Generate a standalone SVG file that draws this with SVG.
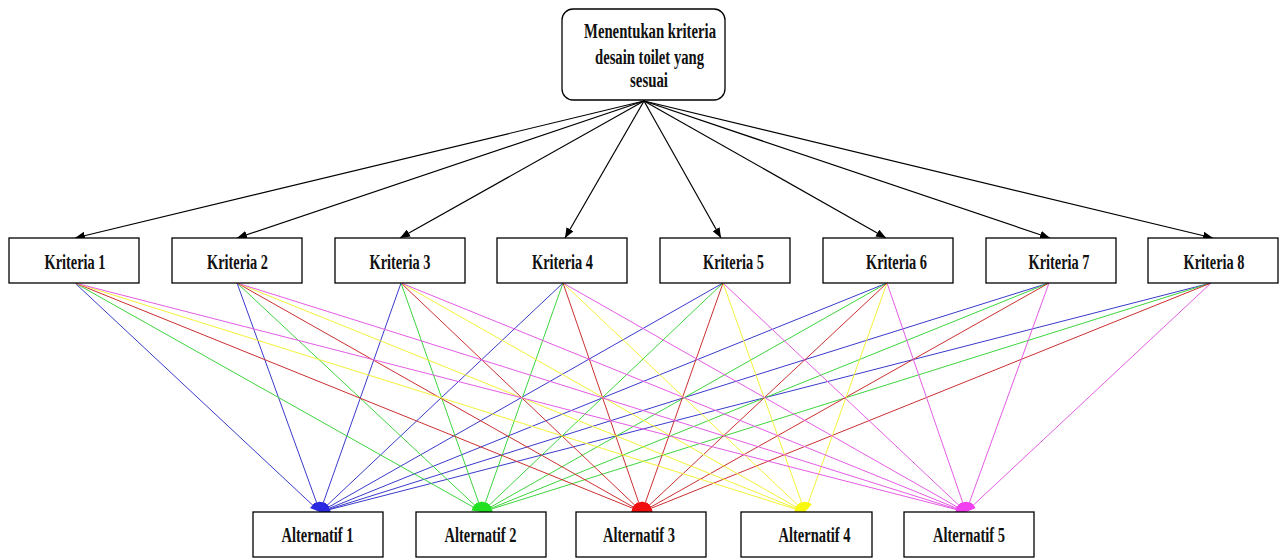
<svg xmlns="http://www.w3.org/2000/svg" width="1279" height="558" viewBox="0 0 1279 558">
<style>
.box{fill:#fff;stroke:#000;stroke-width:1.3}
.t{font-family:"Liberation Serif","Times New Roman",serif;font-weight:bold;font-size:20px;fill:#111}
.k{stroke:#000;stroke-width:1.2;fill:none;marker-end:url(#ak)}
.c1{stroke:#3a3acb;stroke-width:1;marker-end:url(#a1)}
.c2{stroke:#3fd43f;stroke-width:1;marker-end:url(#a2)}
.c3{stroke:#cc3030;stroke-width:1;marker-end:url(#a3)}
.c4{stroke:#f2f23a;stroke-width:1;marker-end:url(#a4)}
.c5{stroke:#e45ce4;stroke-width:1;marker-end:url(#a5)}
</style>
<defs>
<marker id="ak" markerUnits="userSpaceOnUse" markerWidth="10" markerHeight="8" refX="10" refY="4" orient="auto"><path d="M0,0 L10,4 L0,8 z" fill="#000"/></marker>
<marker id="a1" markerUnits="userSpaceOnUse" markerWidth="10" markerHeight="8" refX="10" refY="4" orient="auto"><path d="M0,0 L10,4 L0,8 z" fill="#2a2ae0"/></marker>
<marker id="a2" markerUnits="userSpaceOnUse" markerWidth="10" markerHeight="8" refX="10" refY="4" orient="auto"><path d="M0,0 L10,4 L0,8 z" fill="#22e022"/></marker>
<marker id="a3" markerUnits="userSpaceOnUse" markerWidth="10" markerHeight="8" refX="10" refY="4" orient="auto"><path d="M0,0 L10,4 L0,8 z" fill="#f01010"/></marker>
<marker id="a4" markerUnits="userSpaceOnUse" markerWidth="10" markerHeight="8" refX="10" refY="4" orient="auto"><path d="M0,0 L10,4 L0,8 z" fill="#f8f810"/></marker>
<marker id="a5" markerUnits="userSpaceOnUse" markerWidth="10" markerHeight="8" refX="10" refY="4" orient="auto"><path d="M0,0 L10,4 L0,8 z" fill="#f040f0"/></marker>
</defs>
<rect width="1279" height="558" fill="#fff"/>
<g id="connectors">
<line class="k" x1="644" y1="101" x2="75" y2="238"/>
<line class="k" x1="644" y1="101" x2="237" y2="238"/>
<line class="k" x1="644" y1="101" x2="400" y2="238"/>
<line class="k" x1="644" y1="101" x2="565" y2="238"/>
<line class="k" x1="644" y1="101" x2="721" y2="238"/>
<line class="k" x1="644" y1="101" x2="886" y2="238"/>
<line class="k" x1="644" y1="101" x2="1050" y2="238"/>
<line class="k" x1="644" y1="101" x2="1213" y2="238"/>
<g id="to-alt1">
<line class="c1" x1="75" y1="283" x2="320" y2="512"/>
<line class="c1" x1="237" y1="283" x2="320" y2="512"/>
<line class="c1" x1="401" y1="283" x2="320" y2="512"/>
<line class="c1" x1="563" y1="283" x2="320" y2="512"/>
<line class="c1" x1="723" y1="283" x2="320" y2="512"/>
<line class="c1" x1="887" y1="283" x2="320" y2="512"/>
<line class="c1" x1="1049" y1="283" x2="320" y2="512"/>
<line class="c1" x1="1211" y1="283" x2="320" y2="512"/>
</g>
<g id="to-alt2">
<line class="c2" x1="75" y1="283" x2="482" y2="512"/>
<line class="c2" x1="237" y1="283" x2="482" y2="512"/>
<line class="c2" x1="401" y1="283" x2="482" y2="512"/>
<line class="c2" x1="563" y1="283" x2="482" y2="512"/>
<line class="c2" x1="723" y1="283" x2="482" y2="512"/>
<line class="c2" x1="887" y1="283" x2="482" y2="512"/>
<line class="c2" x1="1049" y1="283" x2="482" y2="512"/>
<line class="c2" x1="1211" y1="283" x2="482" y2="512"/>
</g>
<g id="to-alt3">
<line class="c3" x1="75" y1="283" x2="642" y2="512"/>
<line class="c3" x1="237" y1="283" x2="642" y2="512"/>
<line class="c3" x1="401" y1="283" x2="642" y2="512"/>
<line class="c3" x1="563" y1="283" x2="642" y2="512"/>
<line class="c3" x1="723" y1="283" x2="642" y2="512"/>
<line class="c3" x1="887" y1="283" x2="642" y2="512"/>
<line class="c3" x1="1049" y1="283" x2="642" y2="512"/>
<line class="c3" x1="1211" y1="283" x2="642" y2="512"/>
</g>
<g id="to-alt4">
<line class="c4" x1="75" y1="283" x2="805" y2="512"/>
<line class="c4" x1="237" y1="283" x2="805" y2="512"/>
<line class="c4" x1="401" y1="283" x2="805" y2="512"/>
<line class="c4" x1="563" y1="283" x2="805" y2="512"/>
<line class="c4" x1="723" y1="283" x2="805" y2="512"/>
<line class="c4" x1="887" y1="283" x2="805" y2="512"/>
</g>
<g id="to-alt5">
<line class="c5" x1="75" y1="283" x2="966" y2="512"/>
<line class="c5" x1="237" y1="283" x2="966" y2="512"/>
<line class="c5" x1="401" y1="283" x2="966" y2="512"/>
<line class="c5" x1="563" y1="283" x2="966" y2="512"/>
<line class="c5" x1="723" y1="283" x2="966" y2="512"/>
<line class="c5" x1="887" y1="283" x2="966" y2="512"/>
<line class="c5" x1="1049" y1="283" x2="966" y2="512"/>
<line class="c5" x1="1211" y1="283" x2="966" y2="512"/>
</g>
</g>
<g id="goal">
<rect class="box" x="562" y="9" width="163" height="91" rx="11"/>
<text class="t" x="650" y="38" text-anchor="middle" textLength="132" lengthAdjust="spacingAndGlyphs">Menentukan kriteria</text>
<text class="t" x="649.5" y="64" text-anchor="middle" textLength="109" lengthAdjust="spacingAndGlyphs">desain toilet yang</text>
<text class="t" x="649" y="87" text-anchor="middle" textLength="38" lengthAdjust="spacingAndGlyphs">sesuai</text>
</g>
<g id="kriteria1"><rect class="box" x="9" y="238" width="130" height="45"/><text class="t" x="75" y="269" text-anchor="middle" textLength="61" lengthAdjust="spacingAndGlyphs">Kriteria 1</text></g>
<g id="kriteria2"><rect class="box" x="172" y="238" width="130" height="45"/><text class="t" x="237.5" y="269" text-anchor="middle" textLength="61" lengthAdjust="spacingAndGlyphs">Kriteria 2</text></g>
<g id="kriteria3"><rect class="box" x="335" y="238" width="130" height="45"/><text class="t" x="400" y="269" text-anchor="middle" textLength="61" lengthAdjust="spacingAndGlyphs">Kriteria 3</text></g>
<g id="kriteria4"><rect class="box" x="497" y="238" width="130" height="45"/><text class="t" x="562.5" y="269" text-anchor="middle" textLength="61" lengthAdjust="spacingAndGlyphs">Kriteria 4</text></g>
<g id="kriteria5"><rect class="box" x="660" y="238" width="130" height="45"/><text class="t" x="733.5" y="269" text-anchor="middle" textLength="61" lengthAdjust="spacingAndGlyphs">Kriteria 5</text></g>
<g id="kriteria6"><rect class="box" x="823" y="238" width="130" height="45"/><text class="t" x="896.5" y="269" text-anchor="middle" textLength="61" lengthAdjust="spacingAndGlyphs">Kriteria 6</text></g>
<g id="kriteria7"><rect class="box" x="986" y="238" width="130" height="45"/><text class="t" x="1059" y="269" text-anchor="middle" textLength="61" lengthAdjust="spacingAndGlyphs">Kriteria 7</text></g>
<g id="kriteria8"><rect class="box" x="1148" y="238" width="130" height="45"/><text class="t" x="1214" y="269" text-anchor="middle" textLength="61" lengthAdjust="spacingAndGlyphs">Kriteria 8</text></g>
<g id="alternatif1"><rect class="box" x="253" y="512" width="130" height="45"/><text class="t" x="317.5" y="542" text-anchor="middle" textLength="72" lengthAdjust="spacingAndGlyphs">Alternatif 1</text></g>
<g id="alternatif2"><rect class="box" x="416" y="512" width="130" height="45"/><text class="t" x="480.5" y="542" text-anchor="middle" textLength="72" lengthAdjust="spacingAndGlyphs">Alternatif 2</text></g>
<g id="alternatif3"><rect class="box" x="576" y="512" width="130" height="45"/><text class="t" x="639" y="542" text-anchor="middle" textLength="72" lengthAdjust="spacingAndGlyphs">Alternatif 3</text></g>
<g id="alternatif4"><rect class="box" x="741" y="512" width="131" height="45"/><text class="t" x="814.5" y="542" text-anchor="middle" textLength="72" lengthAdjust="spacingAndGlyphs">Alternatif 4</text></g>
<g id="alternatif5"><rect class="box" x="904" y="512" width="130" height="45"/><text class="t" x="969" y="542" text-anchor="middle" textLength="72" lengthAdjust="spacingAndGlyphs">Alternatif 5</text></g>
</svg>
